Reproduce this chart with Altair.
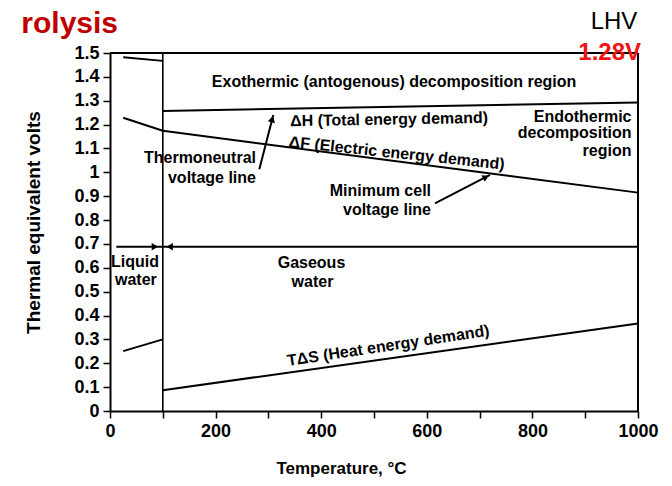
import altair as alt
import pandas as pd

FONT = "Liberation Sans"

# ---- data ----
T_liq = [25, 100]
dH_liq = [1.482, 1.467]
dF_liq = [1.229, 1.174]
TdS_liq = [0.251, 0.300]

T_gas = [100, 1000]
dH_gas = [1.257, 1.293]
dF_gas = [1.174, 0.915]
TdS_gas = [0.087, 0.367]

phase_T = 100
phase_line_T = [12, 1000]
phase_line_V = [0.688, 0.688]

thermo_arrow_T = [282.8, 309.3]
thermo_arrow_V = [1.013, 1.240]
min_arrow_T = [615.5, 719.7]
min_arrow_V = [0.870, 0.989]

head_T = [307.2, 712.0, 85.0, 113.0]
head_V = [1.223, 0.980, 0.688, 0.688]
head_shape = ["triangle-up", "triangle-up", "triangle-right", "triangle-left"]
head_angle = [15, 63, 0, 0]

x_ticks = [0, 100, 200, 300, 400, 500, 600, 700, 800, 900, 1000]
y_ticks = [0, 0.1, 0.2, 0.3, 0.4, 0.5, 0.6, 0.7, 0.8, 0.9, 1, 1.1, 1.2, 1.3, 1.4, 1.5]

# ---- tables ----
rows = []
def add(seg, Ts, Vs):
    for t, v in zip(Ts, Vs):
        rows.append({"seg": seg, "T": t, "V": v})

add("dH_liq", T_liq, dH_liq)
add("dF_liq", T_liq, dF_liq)
add("TdS_liq", T_liq, TdS_liq)
add("dH_gas", T_gas, dH_gas)
add("dF_gas", T_gas, dF_gas)
add("TdS_gas", T_gas, TdS_gas)
add("phase", phase_line_T, phase_line_V)
add("arrow_thermo", thermo_arrow_T, thermo_arrow_V)
add("arrow_min", min_arrow_T, min_arrow_V)
line_df = pd.DataFrame(rows)

heads_df = pd.DataFrame({"T": head_T, "V": head_V, "shape": head_shape, "ang": head_angle})
vrule_df = pd.DataFrame({"T": [phase_T, 1000], "V": [0.0, 0.0], "V1": [1.5, 1.5],
                         "w": [1.6, 2.0]})
hrule_df = pd.DataFrame({"T": [0], "T1": [1000], "V": [1.5]})

center_txt = pd.DataFrame({
    "txt": ["Exothermic (antogenous) decomposition region", "ΔH (Total energy demand)",
            "ΔF (Electric energy demand)", "TΔS (Heat energy demand)",
            "Liquid", "water", "Gaseous", "water"],
    "T": [538, 528.4, 543, 527, 47.3, 49, 381.6, 383.5],
    "V": [1.380, 1.221, 1.080, 0.273, 0.625, 0.549, 0.619, 0.542],
    "ang": [0, 359, 6, 351.4, 0, 0, 0, 0],
})
right_txt = pd.DataFrame({
    "txt": ["Endothermic", "decomposition", "region", "Thermoneutral", "voltage line",
            "Minimum cell", "voltage line"],
    "T": [987.7, 987.7, 987.7, 276.5, 276.5, 608, 608],
    "V": [1.233, 1.163, 1.089, 1.059, 0.977, 0.923, 0.842],
})
top_title = pd.DataFrame({"txt": ["rolysis"], "T": [15.2], "V": [1.584]})
top_lhv = pd.DataFrame({"txt": ["LHV"], "T": [998.7], "V": [1.600]})
top_v = pd.DataFrame({"txt": ["1.28V"], "T": [1005.7], "V": [1.470]})

xs = alt.Scale(domain=[0, 1000], nice=False, zero=False)
ys = alt.Scale(domain=[0, 1.5], nice=False, zero=False)

x_axis = alt.Axis(values=x_ticks,
                  labelExpr="datum.value % 200 == 0 ? format(datum.value, 'd') : ''",
                  labelOverlap=False, labelFlush=False, labelBound=False,
                  grid=False, tickSize=7, tickColor="black", tickWidth=1.5,
                  domainColor="black", domainWidth=2, labelFont=FONT, labelFontSize=18,
                  labelFontWeight="bold", labelColor="black", labelPadding=4,
                  title="Temperature, °C", titleFont=FONT, titleFontSize=17,
                  titleFontWeight="bold", titleColor="black", titleX=231, titleY=57,
                  titleBaseline="middle", titleAlign="center")
y_axis = alt.Axis(values=y_ticks, labelExpr="format(datum.value, '.1~f')",
                  labelOverlap=False, labelFlush=False,
                  labelBound=False, grid=False, tickSize=7, tickColor="black",
                  tickWidth=1.5, domainColor="black", domainWidth=2, labelFont=FONT,
                  labelFontSize=18, labelFontWeight="bold", labelColor="black", labelPadding=4,
                  title="Thermal equivalent volts", titleFont=FONT, titleFontSize=19,
                  titleFontWeight="bold", titleColor="black", titleX=-77, titleY=169,
                  titleAngle=270, titleBaseline="middle", titleAlign="center")

X = lambda f: alt.X(f, scale=xs, axis=x_axis)
Y = lambda f: alt.Y(f, scale=ys, axis=y_axis)

lines = alt.Chart(line_df).mark_line(color="black", strokeWidth=2).encode(
    x=X("T:Q"), y=Y("V:Q"), detail="seg:N")

vrules = alt.Chart(vrule_df).mark_rule(color="black").encode(
    x=X("T:Q"), y=Y("V:Q"), y2="V1:Q", strokeWidth=alt.StrokeWidth("w:Q", scale=None))

hrule = alt.Chart(hrule_df).mark_rule(color="black", strokeWidth=2).encode(
    x=X("T:Q"), x2="T1:Q", y=Y("V:Q"))

heads = alt.Chart(heads_df).mark_point(filled=True, color="black", opacity=1, size=55).encode(
    x=X("T:Q"), y=Y("V:Q"),
    shape=alt.Shape("shape:N", scale=None), angle=alt.Angle("ang:Q", scale=None))

t_center = alt.Chart(center_txt).mark_text(font=FONT, fontSize=16, fontWeight="bold",
                                           color="black", align="center", baseline="middle").encode(
    x=X("T:Q"), y=Y("V:Q"), text="txt:N", angle=alt.Angle("ang:Q", scale=None))

t_right = alt.Chart(right_txt).mark_text(font=FONT, fontSize=16, fontWeight="bold",
                                         color="black", align="right", baseline="middle").encode(
    x=X("T:Q"), y=Y("V:Q"), text="txt:N")

t_title = alt.Chart(top_title).mark_text(font=FONT, fontSize=30, fontWeight="bold",
                                         color="#c00000", align="right", baseline="alphabetic").encode(
    x=X("T:Q"), y=Y("V:Q"), text="txt:N")

t_lhv = alt.Chart(top_lhv).mark_text(font=FONT, fontSize=24, color="black",
                                     align="right", baseline="alphabetic").encode(
    x=X("T:Q"), y=Y("V:Q"), text="txt:N")

t_v = alt.Chart(top_v).mark_text(font=FONT, fontSize=24, fontWeight="bold", color="#f01414",
                                 align="right", baseline="alphabetic").encode(
    x=X("T:Q"), y=Y("V:Q"), text="txt:N")

chart = alt.layer(lines, vrules, hrule, heads, t_center, t_right, t_title, t_lhv, t_v).properties(
    width=528, height=358,
    padding={"left": 102, "top": 45, "right": 26, "bottom": 67},
    autosize=alt.AutoSizeParams(type="none"),
).configure_view(strokeWidth=0).configure(background="white")

chart.save("out.html", embed_options={"renderer": "svg", "actions": False})
